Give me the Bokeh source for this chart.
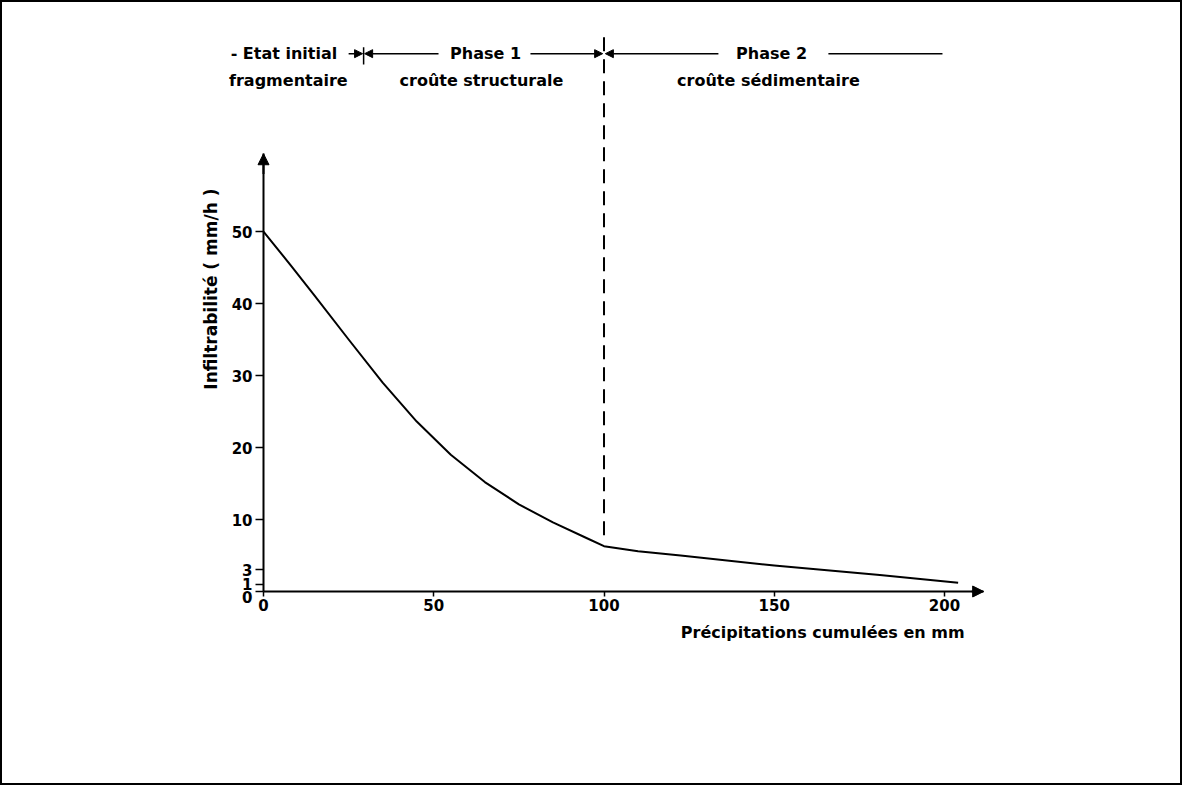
from bokeh.plotting import figure
from bokeh.models import Range1d, FixedTicker, Label, Arrow, NormalHead
from bokeh.embed import file_html
from bokeh.resources import INLINE
import math

# ---- data ----
precip = [0, 8, 15, 25, 35, 45, 55, 65, 75, 85, 95, 100, 110, 122.5, 150, 181, 204]
infiltr = [50, 45.3, 41.1, 35.0, 29.0, 23.6, 19.0, 15.2, 12.1, 9.6, 7.4, 6.3, 5.6, 5.0, 3.6, 2.3, 1.2]
x_ticks = [0, 50, 100, 150, 200]
y_ticks = [0, 1, 3, 10, 20, 30, 40, 50]
phase_bounds = [29.4, 100]
x_label = "Précipitations cumulées en mm"
y_label = "Infiltrabilité ( mm/h )"
phase_titles = ["- Etat initial", "Phase 1", "Phase 2"]
phase_subtitles = ["fragmentaire", "croûte structurale", "croûte sédimentaire"]

FONT = "DejaVu Sans"
FS = "16px"

p = figure(width=1182, height=785,
           x_range=Range1d(-23.79, 217.03), y_range=Range1d(-9.86, 81.25),
           output_backend="svg", toolbar_location=None,
           min_border_left=180, min_border_right=182,
           min_border_top=4, min_border_bottom=125)
p.styles = {"border": "2px solid black"}
p.outline_line_color = None
p.xgrid.visible = False
p.ygrid.visible = False
p.background_fill_color = "white"

# axes, pinned at the origin
p.xaxis.fixed_location = 0
p.yaxis.fixed_location = 0
p.xaxis.bounds = (0, 211.5)
p.yaxis.bounds = (0, 60.8)
p.xaxis.ticker = FixedTicker(ticks=x_ticks)
p.yaxis.ticker = FixedTicker(ticks=y_ticks)
p.axis.minor_tick_line_color = None
p.axis.axis_line_width = 2
p.axis.axis_line_color = "black"
p.axis.major_tick_line_width = 1.5
p.axis.major_tick_line_color = "black"
p.axis.major_label_text_font = FONT
p.axis.major_label_text_font_style = "bold"
p.axis.major_label_text_font_size = "15px"
p.axis.major_label_text_color = "black"
p.yaxis.major_tick_in = 0
p.yaxis.major_tick_out = 8
p.yaxis.major_label_standoff = 3
p.xaxis.major_tick_in = 0
p.xaxis.major_tick_out = 5
p.xaxis.major_label_standoff = 2
p.yaxis.major_label_overrides = {0: ""}

# axis arrow heads
p.add_layout(Arrow(end=NormalHead(size=11, fill_color="black", line_color="black"),
                   x_start=0, y_start=58, x_end=0, y_end=60.8,
                   line_width=2, line_color="black"))
p.add_layout(Arrow(end=NormalHead(size=11, fill_color="black", line_color="black"),
                   x_start=208, y_start=0, x_end=211.5, y_end=0,
                   line_width=2, line_color="black"))

# curve
p.line(precip, infiltr, line_width=2, line_color="black", line_join="round")

# dashed boundary between phase 1 and 2
p.segment(x0=[phase_bounds[1]], y0=[7.8], x1=[phase_bounds[1]], y1=[77.2],
          line_width=2, line_color="black", line_dash="14 8")


def lab(text, x, y, align="center", angle=0.0, xo=0, yo=0, size=FS):
    p.add_layout(Label(x=x, y=y, text=text, text_font=FONT, text_font_style="bold",
                       text_font_size=size, text_align=align, text_baseline="middle",
                       angle=angle, x_offset=xo, y_offset=yo, text_color="black"))


y1, y2 = 74.7, 71.0
lab(phase_titles[0], 6.0, y1)
lab(phase_subtitles[0], 7.3, y2)
lab(phase_titles[1], 65.2, y1)
lab(phase_subtitles[1], 64.0, y2)
lab(phase_titles[2], 149.2, y1)
lab(phase_subtitles[2], 148.3, y2)


def arr(xs, xe, head=True):
    p.add_layout(Arrow(end=NormalHead(size=8, fill_color="black", line_color="black") if head else None,
                       x_start=xs, y_start=y1, x_end=xe, y_end=y1,
                       line_width=1.5, line_color="black"))


arr(25.0, phase_bounds[0] - 0.3)
arr(51.4, phase_bounds[0] + 0.3)
arr(78.4, phase_bounds[1] - 0.4)
arr(133.6, phase_bounds[1] + 0.4)
arr(165.9, 199.4, head=False)
p.segment(x0=[phase_bounds[0]], y0=[73.2], x1=[phase_bounds[0]], y1=[75.6],
          line_width=1.5, line_color="black")

# axis titles
lab(x_label, 205.9, -5.7, align="right")
lab(y_label, -15.5, 42.0, angle=math.pi / 2, size="17px")
# y-axis zero label nudged below the "1"
lab("0", 0, 0, align="right", xo=-11, yo=-5, size="15px")

open("out.html", "w").write(file_html(p, INLINE))
